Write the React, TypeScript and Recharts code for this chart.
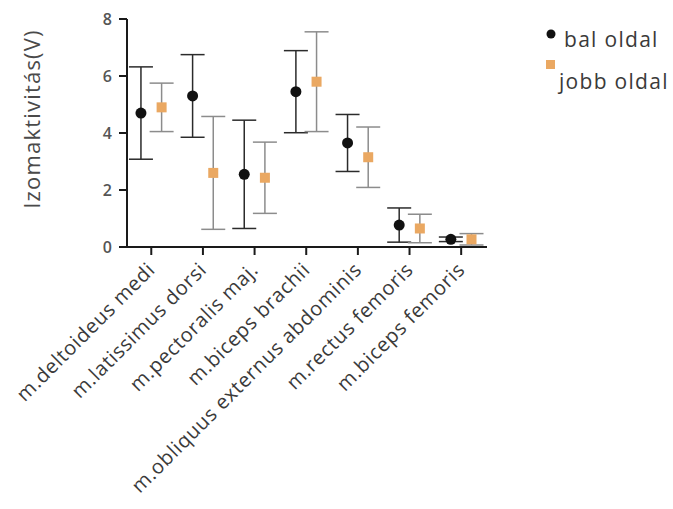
import React from "react";
import {
  ScatterChart, Scatter, XAxis, YAxis, ErrorBar,
} from "recharts";

const muscles = [
  "m.deltoideus medi",
  "m.latissimus dorsi",
  "m.pectoralis maj.",
  "m.biceps brachii",
  "m.obliquus externus abdominis",
  "m.rectus femoris",
  "m.biceps femoris",
];

// mean and SD per muscle, left side
const balMean = [4.7, 5.3, 2.55, 5.45, 3.65, 0.77, 0.27];
const balSd = [1.62, 1.45, 1.9, 1.44, 1.0, 0.6, 0.08];

// mean and SD per muscle, right side
const jobbMean = [4.9, 2.6, 2.43, 5.8, 3.15, 0.65, 0.27];
const jobbSd = [0.85, 1.98, 1.25, 1.75, 1.06, 0.5, 0.2];

const yTicks = [0, 2, 4, 6, 8];

const BLACK = "#111111";
const ORANGE = "#eaa862";
const FONT = "'Open Sans', sans-serif";

// points sit a little left/right of the category tick
const OFFSET = 0.2;

const balData = muscles.map((m, i) => ({ x: i - OFFSET, y: balMean[i], sd: balSd[i] }));
const jobbData = muscles.map((m, i) => ({ x: i + OFFSET, y: jobbMean[i], sd: jobbSd[i] }));

function XTick({ x, y, payload }: any) {
  return (
    <g transform={`translate(${x + 5},${y + 14})`}>
      <text
        transform="rotate(-45)"
        textAnchor="end"
        fontFamily={FONT}
        fontSize={20}
        letterSpacing={0.7}
        fill="#3a3a3a"
      >
        {muscles[payload.value]}
      </text>
    </g>
  );
}

function YLabel() {
  return (
    <text
      x={31}
      y={119}
      transform="rotate(-90, 31, 119)"
      textAnchor="middle"
      dominantBaseline="central"
      fontFamily={FONT}
      fontSize={22}
      letterSpacing={1.2}
      fill="#4a4a4a"
    >
      Izomaktivitás(V)
    </text>
  );
}

// legend drawn as its own small svg in the top-right corner
function LegendBox() {
  return (
    <svg
      width={673}
      height={120}
      style={{ position: "absolute", left: 0, top: 0, pointerEvents: "none" }}
      fontFamily={FONT}
      fontSize={21}
      letterSpacing={1.3}
      fill="#3a3a3a"
    >
      <circle cx={551} cy={34} r={4.5} fill={BLACK} />
      <text x={564} y={47}>bal oldal</text>
      <rect x={546} y={60} width={9} height={9} fill={ORANGE} />
      <text x={559} y={89}>jobb oldal</text>
    </svg>
  );
}

const Dot = (props: any) => <circle cx={props.cx} cy={props.cy} r={5.5} fill={BLACK} />;
const Square = (props: any) => (
  <rect x={props.cx - 5} y={props.cy - 5} width={10} height={10} fill={ORANGE} />
);

export default function App() {
  return (
    <div style={{ position: "absolute", left: 0, top: 0, width: 673, height: 509, background: "#fff" }}>
      <ScatterChart width={673} height={509} margin={{ top: 19, right: 186, bottom: 0, left: 97 }}>
        <XAxis
          type="number"
          dataKey="x"
          domain={[-0.47, 6.5]}
          ticks={[0, 1, 2, 3, 4, 5, 6]}
          tick={<XTick />}
          height={262}
          stroke="#1a1a1a"
          strokeWidth={2}
          tickSize={8}
          allowDataOverflow
        />
        <YAxis
          type="number"
          dataKey="y"
          domain={[0, 8]}
          ticks={yTicks}
          width={30}
          stroke="#1a1a1a"
          strokeWidth={2}
          tickSize={8}
          tickMargin={7}
          tick={{ fontSize: 16, fill: "#555", fontFamily: FONT, fontWeight: 600 }}
          label={<YLabel />}
        />
        <Scatter name="bal oldal" data={balData} shape={<Dot />} isAnimationActive={false}>
          <ErrorBar dataKey="sd" direction="y" width={12} stroke="#2b2b2b" strokeWidth={1.5} />
        </Scatter>
        <Scatter name="jobb oldal" data={jobbData} shape={<Square />} isAnimationActive={false}>
          <ErrorBar dataKey="sd" direction="y" width={12} stroke="#8c8c8c" strokeWidth={1.5} />
        </Scatter>
      </ScatterChart>
      <LegendBox />
    </div>
  );
}
